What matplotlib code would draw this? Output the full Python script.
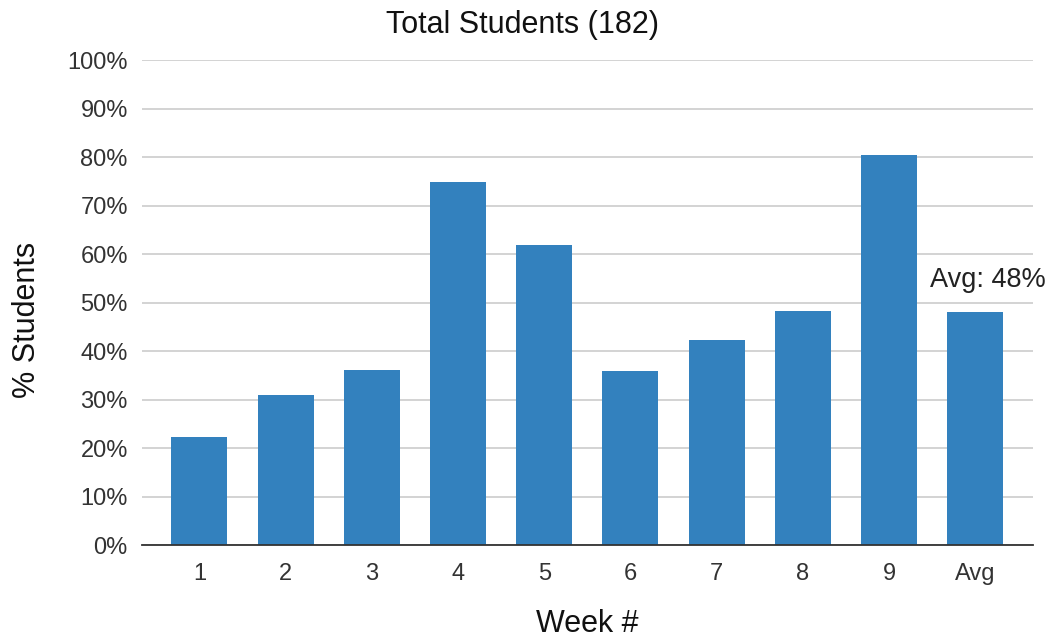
import matplotlib
matplotlib.use("Agg")
import matplotlib.pyplot as plt
import numpy as np

# Weekly share of students (%) and the overall average bar
weeks = ["1", "2", "3", "4", "5", "6", "7", "8", "9"]
week_pct = [22.3, 31.0, 36.1, 74.9, 61.8, 35.8, 42.2, 48.2, 80.4]
avg_label = "Avg"
total_students = 182

avg_pct = float(np.mean(week_pct))
categories = weeks + [avg_label]
values = week_pct + [avg_pct]

plt.rcParams["font.family"] = ["Liberation Sans", "DejaVu Sans"]

fig = plt.figure(figsize=(10.54, 6.39), dpi=100)
ax = fig.add_axes([0.1344, 0.147, 0.9800 - 0.1344, 0.906 - 0.147])

bar_color = "#3381BE"
x = np.arange(len(categories))
ax.bar(x, values, width=0.65, color=bar_color, zorder=3)

ax.set_xlim(-0.67, len(categories) - 1 + 0.67)
ax.set_ylim(0, 100)
ax.set_yticks(np.arange(0, 101, 10))
ax.set_yticklabels([f"{v}%" for v in range(0, 101, 10)])
ax.set_xticks(x)
ax.set_xticklabels(categories)

ax.grid(axis="y", color="#cccccc", linewidth=1.2, zorder=0)
for side in ("top", "right", "left"):
    ax.spines[side].set_visible(False)
ax.spines["bottom"].set_color("#333333")
ax.spines["bottom"].set_linewidth(1.3)
ax.spines["bottom"].set_zorder(4)

ax.tick_params(axis="y", length=0, pad=10, labelsize=17, labelcolor="#333333")
ax.tick_params(axis="x", length=0, pad=13, labelsize=17, labelcolor="#333333")

# Average annotation above the last bar
ax.text(x[-1] + 0.15, avg_pct + 5.1, f"Avg: {avg_pct:.0f}%", ha="center",
        va="baseline", fontsize=19.5, color="#222222", clip_on=False)

fig.text(522 / 1054, 1 - 25 / 639, f"Total Students ({total_students})",
         ha="center", va="center", fontsize=22, color="#111111")
fig.text(587 / 1054, 1 - 624 / 639, "Week #", ha="center", va="center",
         fontsize=22, color="#111111")
fig.text(27 / 1054, 1 - 320 / 639, "% Students", ha="center", va="center",
         rotation=90, fontsize=22, color="#111111")

fig.savefig("out.png", dpi=100, facecolor="white")
